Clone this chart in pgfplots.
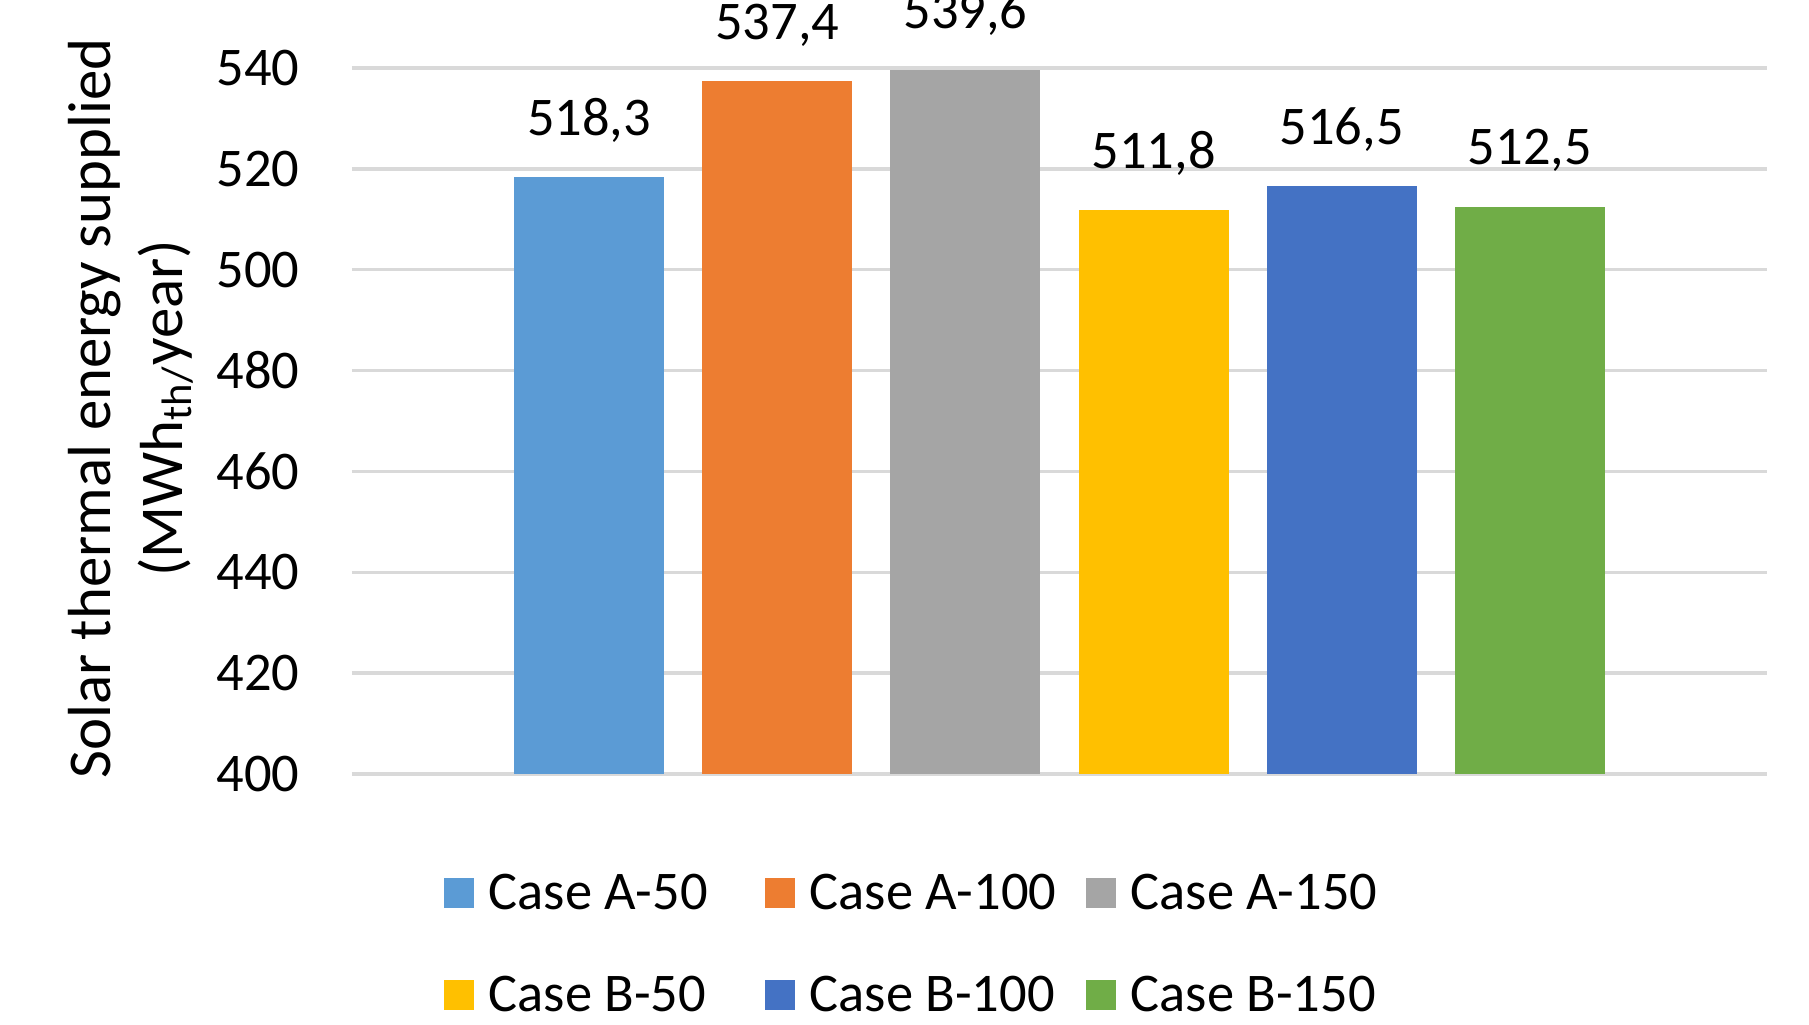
\documentclass[border=0pt]{standalone}
\usepackage{fontspec}
\setmainfont{Carlito}
\usepackage{pgfplots}
\pgfplotsset{compat=1.18}

\definecolor{caseAfifty}{HTML}{5B9BD5}
\definecolor{caseAhundred}{HTML}{ED7D31}
\definecolor{caseAonefifty}{HTML}{A5A5A5}
\definecolor{caseBfifty}{HTML}{FFC000}
\definecolor{caseBhundred}{HTML}{4472C4}
\definecolor{caseBonefifty}{HTML}{70AD47}
\definecolor{gridgray}{HTML}{D9D9D9}

\pgfplotsset{
  casebar/.style={
    ybar, bar width=15mm, bar shift=0pt, draw=none, fill=#1,
    legend image code/.code={\fill[#1] (0mm,-1.5mm) rectangle (3mm,1.5mm);}
  }
}

\begin{document}
\begin{tikzpicture}[font=\fontsize{15.5}{18.6}\selectfont]
\path[use as bounding box] (-35.2mm,-25.1mm) rectangle (145.7mm,77.4mm);
\begin{axis}[
  at={(0,0)}, anchor=south west,
  scale only axis, width=141.5mm, height=70.6mm,
  xmin=-0.26, xmax=7.26, ymin=400, ymax=540,
  ytick={400,420,...,540}, xtick=\empty,
  axis line style={draw=none}, major tick length=0pt,
  ymajorgrids, grid style={draw=gridgray, line width=0.35mm},
  clip=false,
  yticklabel style={inner sep=0pt, anchor=east, xshift=-5.2mm},
  /pgf/number format/assume math mode=true,
  /pgf/number format/1000 sep={},
  ylabel={Solar thermal energy supplied\\(MWh\textsubscript{th/}year)},
  ylabel style={at={(axis description cs:-0.1565,0.518)}, anchor=center,
    align=center, font=\fontsize{17.3}{20.4}\selectfont},
  nodes near coords={\pgfmathprintnumber[fixed, fixed zerofill, precision=1, use comma, assume math mode=true]{\pgfplotspointmeta}},
  every node near coord/.append style={anchor=south, inner sep=0pt, yshift=3.4mm, black},
  legend columns=3,
  legend style={at={(axis description cs:0,0)}, anchor=north west,
    xshift=9.1mm, yshift=-10.1mm, draw=none, fill=none, inner sep=0pt,
    row sep=6.8mm,
    /tikz/every odd column/.append style={column sep=1.5mm},
    /tikz/every even column/.append style={column sep=2.6mm},
    nodes={inner sep=0pt, text height=3.4mm, text depth=0mm}},
  legend cell align=left,
]
\addplot[casebar=caseAfifty]    coordinates {(1,518.3)};
\addlegendentry{\makebox[25mm][l]{Case A-50}}
\addplot[casebar=caseAhundred]  coordinates {(2,537.4)};
\addlegendentry{\makebox[25mm][l]{Case A-100}}
\addplot[casebar=caseAonefifty] coordinates {(3,539.6)};
\addlegendentry{\makebox[25mm][l]{Case A-150}}
\addplot[casebar=caseBfifty]    coordinates {(4,511.8)};
\addlegendentry{\makebox[25mm][l]{Case B-50}}
\addplot[casebar=caseBhundred]  coordinates {(5,516.5)};
\addlegendentry{\makebox[25mm][l]{Case B-100}}
\addplot[casebar=caseBonefifty] coordinates {(6,512.5)};
\addlegendentry{\makebox[25mm][l]{Case B-150}}
\end{axis}
\end{tikzpicture}
\end{document}
